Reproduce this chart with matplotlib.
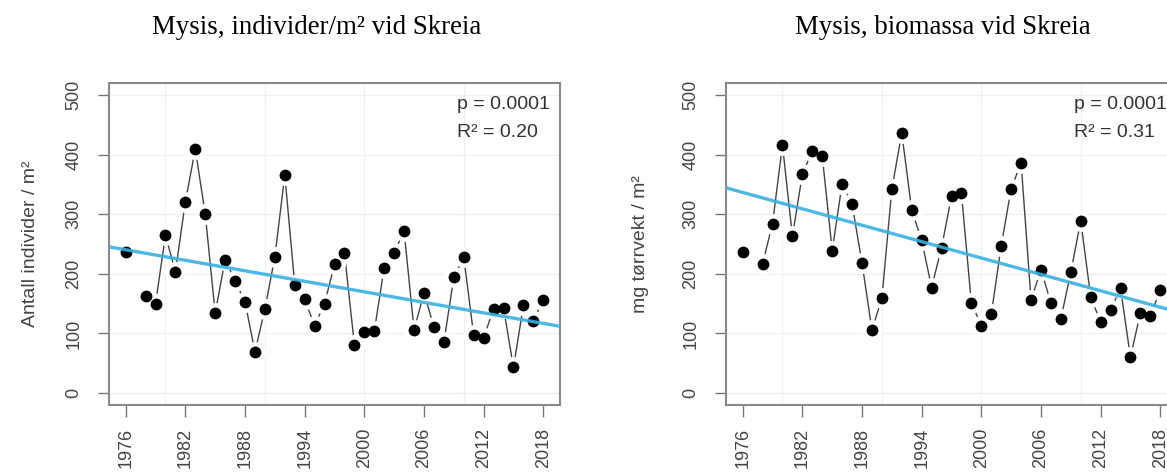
import numpy as np
import matplotlib
matplotlib.use('Agg')
import matplotlib.pyplot as plt

# Data lest av figuren (1977 mangler)
aar = list(range(1976, 2019))
individer = [237, np.nan, 163, 150, 265, 203, 321, 409, 300, 134, 224, 188, 153, 69, 141,
             228, 366, 182, 157, 113, 150, 216, 235, 81, 103, 104, 210, 235, 272, 106,
             168, 111, 85, 194, 228, 97, 93, 141, 143, 43, 147, 121, 156]
biomasse = [237, np.nan, 217, 284, 416, 263, 367, 406, 398, 239, 351, 317, 218, 106, 159,
            342, 436, 307, 256, 177, 244, 330, 335, 151, 113, 132, 247, 343, 386, 156,
            207, 151, 124, 203, 289, 161, 119, 139, 176, 60, 135, 129, 173]

titler = ['Mysis, individer/m² vid Skreia', 'Mysis, biomassa vid Skreia']
ytekster = ['Antall individer / m²', 'mg tørrvekt / m²']
statistikk = [('p = 0.0001', 'R² = 0.20'), ('p = 0.0001', 'R² = 0.31')]
xticks = [1976, 1982, 1988, 1994, 2000, 2006, 2012, 2018]
yticks = [0, 100, 200, 300, 400, 500]

plt.rcParams['font.family'] = ['Liberation Sans', 'DejaVu Sans']

fig = plt.figure(figsize=(11.67, 4.72), dpi=100)
fig.patch.set_facecolor('white')

# posisjoner i figurbrøk (høyre panel er kuttet i kanten)
venstre_kant = [109 / 1167, 726 / 1167]
ylabel_x = [-0.175, -0.19]
bunn = 67 / 472
bredde = 451 / 1167
hoyde = 322 / 472

for i, verdier in enumerate([individer, biomasse]):
    ax = fig.add_axes([venstre_kant[i], bunn, bredde, hoyde])
    x = np.array(aar, dtype=float)
    y = np.array(verdier, dtype=float)

    # svakt rutenett
    for g in [1980, 1990, 2000, 2010]:
        ax.axvline(g, color='#f0f0f0', lw=1, zorder=0)
    for g in yticks:
        ax.axhline(g, color='#f0f0f0', lw=1, zorder=0)

    # linje med mellomrom rundt punktene (som type="b" i R)
    ax.plot(x, y, color='#444444', lw=1.0, zorder=2)
    ax.plot(x, y, 'o', color='white', markersize=15, markeredgewidth=0, zorder=3)
    ax.plot(x, y, 'o', color='black', markersize=8.5, markeredgewidth=0, zorder=4)

    # regresjonslinje
    ok = ~np.isnan(y)
    b, a = np.polyfit(x[ok], y[ok], 1)
    xl = np.array([1970, 2025])
    ax.plot(xl, a + b * xl, color='#38b1e0', lw=2.4, alpha=0.9, zorder=5)

    ax.set_xlim(1974.32, 2019.68)
    ax.set_ylim(-20, 520)
    ax.set_xticks(xticks)
    ax.set_yticks(yticks)
    ax.tick_params(axis='x', labelrotation=90, length=8.5, width=1, pad=8,
                   color='#777777', labelcolor='#444444', labelsize=13)
    ax.tick_params(axis='y', labelrotation=90, length=8, width=1, pad=11,
                   color='#777777', labelcolor='#444444', labelsize=13)
    for t in ax.get_yticklabels():
        t.set_verticalalignment('center')
    for s in ax.spines.values():
        s.set_color('#8a8a8a')
        s.set_linewidth(1.5)

    ax.text(ylabel_x[i], 0.5, ytekster[i], transform=ax.transAxes, rotation=90,
            ha='center', va='center', fontsize=14, color='#444444')

    ax.text(0.772, 0.932, statistikk[i][0], transform=ax.transAxes,
            ha='left', va='center', fontsize=14, color='#333333')
    ax.text(0.772, 0.845, statistikk[i][1], transform=ax.transAxes,
            ha='left', va='center', fontsize=14, color='#333333')

# titler
fig.text(317 / 1167, 1 - 28 / 472, titler[0], ha='center', va='center',
         fontsize=19.4, family=['Liberation Serif', 'DejaVu Serif'])
fig.text(943 / 1167, 1 - 28 / 472, titler[1], ha='center', va='center',
         fontsize=19.4, family=['Liberation Serif', 'DejaVu Serif'])

fig.savefig('out.png', dpi=100)
